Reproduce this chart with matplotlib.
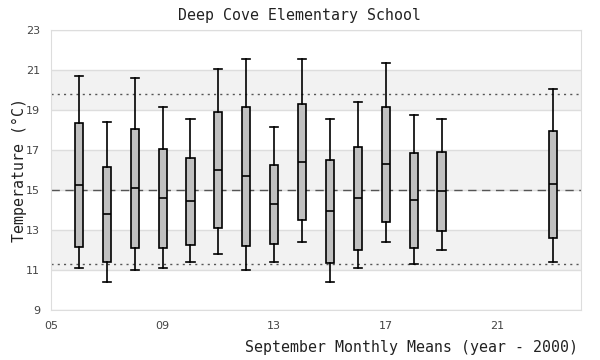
import matplotlib
matplotlib.use("Agg")
from matplotlib import pyplot as plt

# september monthly means, one box per year (year - 2000)
years = [6, 7, 8, 9, 10, 11, 12, 13, 14, 15, 16, 17, 18, 19, 23]
whisker_low = [11.08, 10.38, 10.98, 11.08, 11.38, 11.78, 10.98, 11.38, 12.38, 10.38, 11.08, 12.38, 11.28, 11.98, 11.38]
q1 = [12.13, 11.40, 12.08, 12.08, 12.23, 13.08, 12.18, 12.28, 13.48, 11.33, 11.98, 13.38, 12.08, 12.93, 12.58]
medians = [15.23, 13.78, 15.08, 14.58, 14.43, 15.98, 15.68, 14.28, 16.38, 13.93, 14.58, 16.28, 14.48, 14.93, 15.28]
q3 = [18.33, 16.17, 18.07, 17.07, 16.62, 18.88, 19.17, 16.27, 19.28, 16.52, 17.17, 19.17, 16.87, 16.92, 17.97]
whisker_high = [20.68, 18.38, 20.58, 19.17, 18.57, 21.07, 21.57, 18.17, 21.57, 18.57, 19.38, 21.37, 18.77, 18.57, 20.07]

overall_mean = 15.0
upper_ref = 19.8
lower_ref = 11.3
bands = [(11, 13), (15, 17), (19, 21)]
xticks = [5, 9, 13, 17, 21]
xtick_labels = ["05", "09", "13", "17", "21"]
yticks = [9, 11, 13, 15, 17, 19, 21, 23]

mono = "DejaVu Sans Mono"

fig = plt.figure(figsize=(6, 3.6), dpi=100)
ax = fig.add_axes([0.085, 0.1389, 0.8833, 0.7778])

for lo, hi in bands:
    ax.axhspan(lo, hi, color="#f2f2f2", zorder=0, lw=0)
for y in yticks:
    ax.axhline(y, color="#dddddd", lw=1, zorder=1)

ax.axhline(overall_mean, color="#555555", lw=1, ls=(0, (6, 4)), zorder=2)
ax.axhline(upper_ref, color="#555555", lw=1, ls=(0, (1.5, 3)), zorder=2)
ax.axhline(lower_ref, color="#555555", lw=1, ls=(0, (1.5, 3)), zorder=2)

stats = []
for i in range(len(years)):
    stats.append({"whislo": whisker_low[i], "q1": q1[i], "med": medians[i],
                  "q3": q3[i], "whishi": whisker_high[i], "fliers": []})

ax.bxp(stats, positions=years, widths=0.29, patch_artist=True, showfliers=False,
       boxprops=dict(facecolor="#c0c0c0", edgecolor="black", lw=1.2),
       medianprops=dict(color="black", lw=1.2),
       whiskerprops=dict(color="black", lw=1.2),
       capprops=dict(color="black", lw=1.2),
       capwidths=0.29, manage_ticks=False, zorder=3)

ax.set_xlim(5, 24)
ax.set_ylim(9, 23)
ax.set_xticks(xticks)
ax.set_xticklabels(xtick_labels)
ax.set_yticks(yticks)
ax.tick_params(length=0, labelsize=8, labelcolor="#444444", pad=8)
for s in ax.spines.values():
    s.set_color("#dddddd")

fig.text(0.5, 0.958, "Deep Cove Elementary School", ha="center", va="center",
         family=mono, fontsize=10.7, color="#222222")
fig.text(0.963, 0.036, "September Monthly Means (year - 2000)", ha="right", va="center",
         family=mono, fontsize=10.7, color="#222222")
fig.text(0.033, 0.528, "Temperature (\u00b0C)", ha="center", va="center", rotation=90,
         family=mono, fontsize=10.7, color="#222222")

fig.savefig("out.png", dpi=100)
